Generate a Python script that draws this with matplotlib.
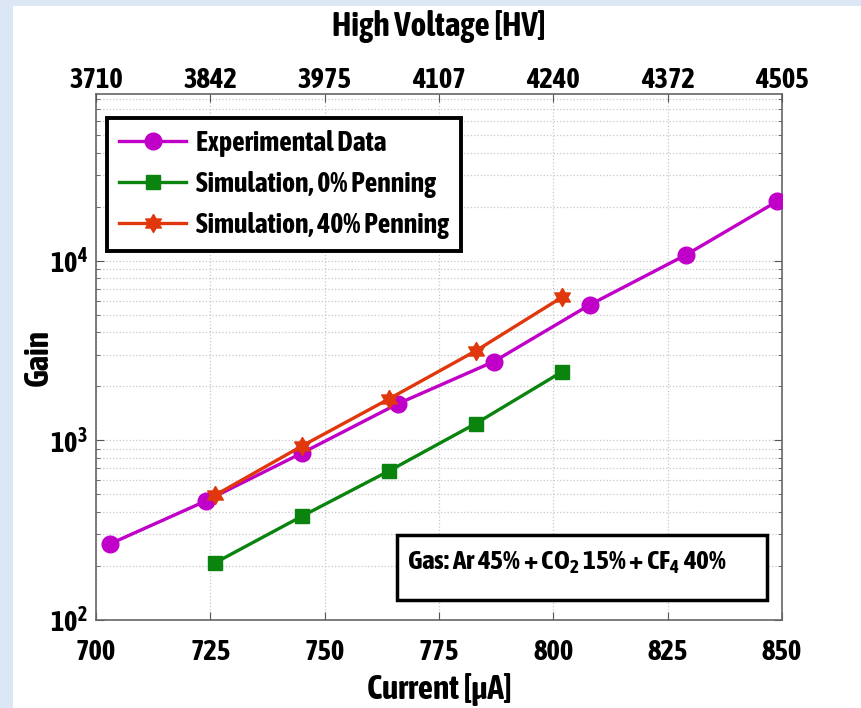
import numpy as np
import matplotlib
matplotlib.use("Agg")
import matplotlib.pyplot as plt
from matplotlib import font_manager as fm
from matplotlib.patches import Rectangle
from matplotlib.ticker import FixedLocator, FixedFormatter, LogLocator, NullFormatter


def _weight(f):
    w = f.weight
    if isinstance(w, str):
        w = fm.weight_dict.get(w, 400)
    return int(w)


# Pick a narrow bold sans face if one is installed
cands = [f for f in fm.fontManager.ttflist
         if ("Narrow" in f.name or "Condensed" in f.name) and f.style == "normal"]
bold_cands = [f for f in cands if _weight(f) >= 600]
pick = None
if bold_cands:
    pick = sorted(bold_cands, key=lambda f: abs(_weight(f) - 700))[0]
elif cands:
    pick = sorted(cands, key=lambda f: -_weight(f))[0]
narrow = pick.name if pick else None
weight = (_weight(pick) if pick else 700)
family = [narrow, "Liberation Sans", "DejaVu Sans"] if narrow else ["Liberation Sans", "DejaVu Sans"]
k = 1.0 if narrow else 0.86

plt.rcParams["font.family"] = family
plt.rcParams["font.weight"] = weight
plt.rcParams["axes.labelweight"] = weight
plt.rcParams["mathtext.fontset"] = "custom"
plt.rcParams["mathtext.rm"] = family[0] + ":bold"
plt.rcParams["mathtext.bf"] = family[0] + ":bold"
plt.rcParams["mathtext.it"] = family[0] + ":bold"

# Measured gain vs. anode current
exp_current = [703, 724, 745, 766, 787, 808, 829, 849]
exp_gain = [265, 460, 850, 1600, 2750, 5700, 10800, 21500]

# Garfield simulations
sim_current = [726, 745, 764, 783, 802]
sim0_gain = [208, 378, 675, 1240, 2420]
sim40_gain = [495, 930, 1700, 3150, 6300]

# Axis tick values
current_ticks = [700, 725, 750, 775, 800, 825, 850]
hv_labels = ["3710", "3842", "3975", "4107", "4240", "4372", "4505"]
gain_ticks = [1e2, 1e3, 1e4]
gain_labels = [r"$10^{2}$", r"$10^{3}$", r"$10^{4}$"]

legend_labels = ["Experimental Data", "Simulation, 0% Penning", "Simulation, 40% Penning"]
gas_text = r"Gas: Ar 45% + CO$_{2}$ 15% + CF$_{4}$ 40%"

C_EXP = "#c000c8"
C_SIM0 = "#0a840e"
C_SIM40 = "#e0380c"

# six-pointed star marker
ang_out = np.deg2rad(90 + np.arange(6) * 60)
ang_in = ang_out + np.deg2rad(30)
r_in = 1 / np.sqrt(3)
star = []
for a, b in zip(ang_out, ang_in):
    star.append((np.cos(a), np.sin(a)))
    star.append((r_in * np.cos(b), r_in * np.sin(b)))
star.append(star[0])

fig = plt.figure(figsize=(8.62, 7.08), dpi=100)
fig.patch.set_facecolor("white")
fig.patches.append(Rectangle((0, 0), 13 / 862, 1, transform=fig.transFigure,
                             facecolor="#dbe7f4", edgecolor="none", zorder=-10))
fig.patches.append(Rectangle((0, 1 - 6 / 708), 1, 6 / 708, transform=fig.transFigure,
                             facecolor="#dbe7f4", edgecolor="none", zorder=-10))

ax = fig.add_axes([96 / 862, 88 / 708, 686 / 862, 526 / 708])
ax.set_yscale("log")
ax.set_xlim(700, 850)
ax.set_ylim(100, 8.5e4)

lw = 2.4
ax.plot(exp_current, exp_gain, color=C_EXP, lw=lw, marker="o", ms=12,
        mfc=C_EXP, mec=C_EXP, label=legend_labels[0], zorder=3)
ax.plot(sim_current, sim0_gain, color=C_SIM0, lw=lw, marker="s", ms=10,
        mfc=C_SIM0, mec=C_SIM0, label=legend_labels[1], zorder=3)
ax.plot(sim_current, sim40_gain, color=C_SIM40, lw=lw, marker=star, ms=13,
        mfc=C_SIM40, mec=C_SIM40, label=legend_labels[2], zorder=4)

ax.xaxis.set_major_locator(FixedLocator(current_ticks))
ax.set_xticklabels([str(t) for t in current_ticks])
ax.yaxis.set_major_locator(FixedLocator(gain_ticks))
ax.yaxis.set_major_formatter(FixedFormatter(gain_labels))
ax.yaxis.set_minor_locator(LogLocator(base=10, subs=np.arange(2, 10)))
ax.yaxis.set_minor_formatter(NullFormatter())

ax.grid(True, which="major", axis="both", color="#c8c8c8", ls=":", lw=0.9)
ax.grid(True, which="minor", axis="y", color="#c8c8c8", ls=":", lw=0.9)
ax.tick_params(axis="both", which="both", direction="in", top=False, right=True,
               color="#555555")
ax.tick_params(axis="both", which="major", length=6, labelsize=20.5 * k)
ax.tick_params(axis="x", which="major", pad=14)
ax.tick_params(axis="y", which="major", pad=6)
ax.tick_params(axis="y", which="minor", length=3)
for s in ax.spines.values():
    s.set_color("#666666")
    s.set_linewidth(1.2)

ax.set_xlabel("Current [μA]", fontsize=24 * k, fontweight=weight)
ax.xaxis.set_label_coords(0.5, -0.1)
ax.set_ylabel("Gain", fontsize=24 * k, fontweight=weight)
ax.yaxis.set_label_coords(-0.06, 0.5)

top = ax.twiny()
top.set_xlim(ax.get_xlim())
top.xaxis.set_major_locator(FixedLocator(current_ticks))
top.set_xticklabels(hv_labels)
top.tick_params(axis="x", direction="in", length=6, labelsize=20.5 * k, pad=0, color="#555555")
top.set_xlabel("High Voltage [HV]", fontsize=24 * k, fontweight=weight)
top.xaxis.set_label_coords(0.5, 1.11)
for s in top.spines.values():
    s.set_visible(False)

leg = ax.legend(loc="upper left", bbox_to_anchor=(0.016, 0.955), fontsize=20 * k,
                frameon=True, fancybox=False, edgecolor="black", framealpha=1,
                handlelength=2.4, handletextpad=0.35, borderpad=0.45, labelspacing=0.5,
                borderaxespad=0)
leg.get_frame().set_linewidth(2.8)

# gas mixture box
ax.add_patch(Rectangle((0.439, 0.038), 0.539, 0.124, transform=ax.transAxes,
                       facecolor="white", edgecolor="black", linewidth=2.5, zorder=5))
ax.text(0.454, 0.108, gas_text, transform=ax.transAxes, fontsize=19.5 * k,
        ha="left", va="center", zorder=6)

fig.savefig("out.png", dpi=100)
